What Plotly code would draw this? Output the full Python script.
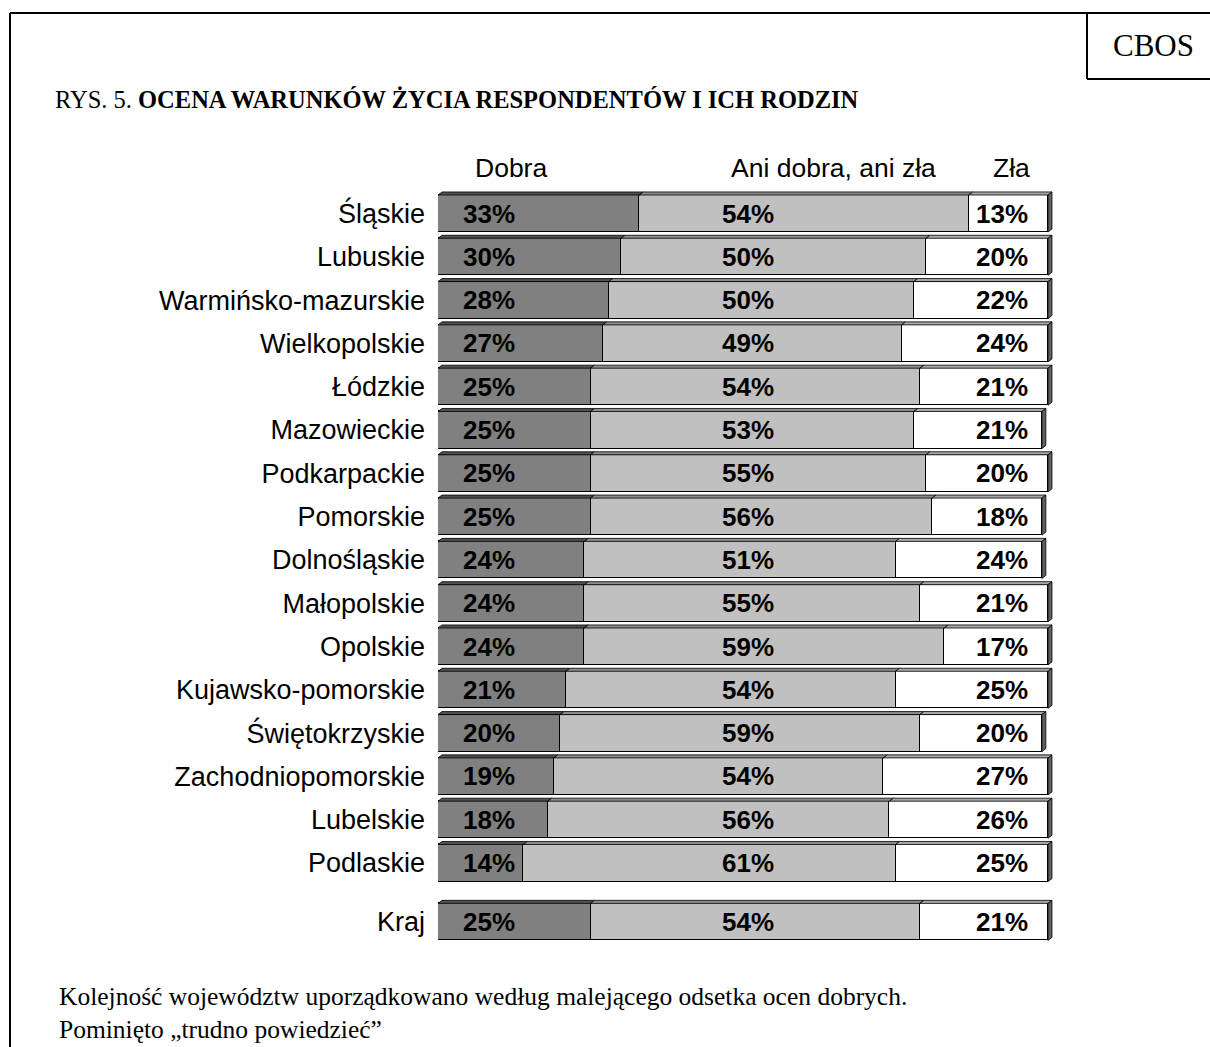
import plotly.graph_objects as go

W, H = 1210, 1047

regions = ["Śląskie", "Lubuskie", "Warmińsko-mazurskie", "Wielkopolskie", "Łódzkie",
           "Mazowieckie", "Podkarpackie", "Pomorskie", "Dolnośląskie", "Małopolskie",
           "Opolskie", "Kujawsko-pomorskie", "Świętokrzyskie", "Zachodniopomorskie",
           "Lubelskie", "Podlaskie", "Kraj"]
dobra = [33, 30, 28, 27, 25, 25, 25, 25, 24, 24, 24, 21, 20, 19, 18, 14, 25]
ani = [54, 50, 50, 49, 54, 53, 55, 56, 51, 55, 59, 54, 59, 54, 56, 61, 54]
zla = [13, 20, 22, 24, 21, 21, 20, 18, 24, 21, 17, 25, 20, 27, 26, 25, 21]
headers = ["Dobra", "Ani dobra, ani zła", "Zła"]
footnote = ["Kolejność województw uporządkowano według malejącego odsetka ocen dobrych.",
            "Pominięto „trudno powiedzieć”"]

# layout constants (pixels)
X0_PX, PX_PER_UNIT = 438, 6.1
ROW0_PX, ROW_PX = 213.5, 43.3
KRAJ_GAP = 0.36
BAR_W = 0.855
DX, DY = 0.65, 0.07  # 3D depth in data units

ypos = [float(i) for i in range(len(regions) - 1)] + [len(regions) - 1 + KRAJ_GAP]

x_max = 101.5
xdom = [X0_PX / W, (X0_PX + x_max * PX_PER_UNIT) / W]
y_top = -ROW0_PX / ROW_PX
y_bot = (H - ROW0_PX) / ROW_PX

def py(px):
    return 1 - px / H

def px_x(px):
    return px / W

fig = go.Figure()
colors = ["#808080", "#c0c0c0", "#ffffff"]
top_colors = ["#505050", "#8c8c8c", "#a8a8a8"]
series = [dobra, ani, zla]
for vals, col, name in zip(series, colors, headers):
    fig.add_trace(go.Bar(
        y=ypos, x=vals, orientation="h", name=name, width=BAR_W,
        marker=dict(color=col, line=dict(color="black", width=1.2)),
        hoverinfo="x+name", showlegend=False,
    ))

shapes = []
for i, y in enumerate(ypos):
    yt = y - BAR_W / 2
    yb = y + BAR_W / 2
    start = 0
    for s, vals in enumerate(series):
        x0, x1 = start, start + vals[i]
        shapes.append(dict(
            type="path", xref="x", yref="y",
            path=f"M {x0},{yt} L {x0+DX},{yt-DY} L {x1+DX},{yt-DY} L {x1},{yt} Z",
            fillcolor=top_colors[s], line=dict(color="black", width=0.8), layer="above"))
        start = x1
    shapes.append(dict(
        type="path", xref="x", yref="y",
        path=f"M {start},{yt} L {start+DX},{yt-DY} L {start+DX},{yb-DY} L {start},{yb} Z",
        fillcolor="#606060", line=dict(color="black", width=0.8), layer="above"))

# frame
LW = 2
shapes += [
    dict(type="line", xref="paper", yref="paper", x0=px_x(10), x1=px_x(10), y0=py(13), y1=py(H + 5),
         line=dict(color="black", width=LW)),
    dict(type="line", xref="paper", yref="paper", x0=px_x(10), x1=px_x(W + 5), y0=py(13), y1=py(13),
         line=dict(color="black", width=LW)),
    dict(type="line", xref="paper", yref="paper", x0=px_x(1087), x1=px_x(1087), y0=py(13), y1=py(79),
         line=dict(color="black", width=LW)),
    dict(type="line", xref="paper", yref="paper", x0=px_x(1087), x1=px_x(W + 5), y0=py(79), y1=py(79),
         line=dict(color="black", width=LW)),
]

ann = []
lab_font = dict(family="Liberation Sans, Arial", size=26, color="black")
for i, y in enumerate(ypos):
    ann.append(dict(x=3.8, y=y, xref="x", yref="y", text=f"<b>{dobra[i]}%</b>", showarrow=False,
                    xanchor="left", yanchor="middle", font=lab_font))
    ann.append(dict(x=50.8, y=y, xref="x", yref="y", text=f"<b>{ani[i]}%</b>", showarrow=False,
                    xanchor="center", yanchor="middle", font=lab_font))
    ann.append(dict(x=97.0, y=y, xref="x", yref="y", text=f"<b>{zla[i]}%</b>", showarrow=False,
                    xanchor="right", yanchor="middle", font=lab_font))

hdr_font = dict(family="Liberation Sans, Arial", size=26.5, color="black")
for txt, xc in zip(headers, [511, 833, 1011]):
    ann.append(dict(x=px_x(xc), y=py(168), xref="paper", yref="paper", text=txt, showarrow=False,
                    xanchor="center", yanchor="middle", font=hdr_font))

serif = "Liberation Serif, Times New Roman"
ann.append(dict(x=px_x(53), y=py(100), xref="paper", yref="paper",
                text="RYS. 5. <b>OCENA WARUNKÓW ŻYCIA RESPONDENTÓW I ICH RODZIN</b>",
                showarrow=False, xanchor="left", yanchor="middle",
                font=dict(family=serif, size=24.5, color="black")))
ann.append(dict(x=px_x(1153), y=py(45), xref="paper", yref="paper", text="CBOS", showarrow=False,
                xanchor="center", yanchor="middle", font=dict(family=serif, size=31, color="black")))
ann.append(dict(x=px_x(57), y=py(1013), xref="paper", yref="paper",
                text="<br>".join(footnote),
                showarrow=False, xanchor="left", yanchor="middle", align="left",
                font=dict(family=serif, size=25.5, color="black")))

fig.update_layout(
    width=W, height=H, margin=dict(l=0, r=0, t=0, b=0),
    paper_bgcolor="white", plot_bgcolor="white",
    barmode="stack", bargap=0,
    xaxis=dict(domain=xdom, range=[0, x_max], visible=False, fixedrange=True),
    yaxis=dict(domain=[0, 1], range=[y_bot, y_top], tickvals=ypos, ticktext=regions,
               showgrid=False, zeroline=False, showline=False, ticks="",
               ticklabelstandoff=12, tickfont=dict(family="Liberation Sans, Arial", size=27, color="black"),
               fixedrange=True),
    shapes=shapes, annotations=ann,
)

fig.write_html("out.html")
